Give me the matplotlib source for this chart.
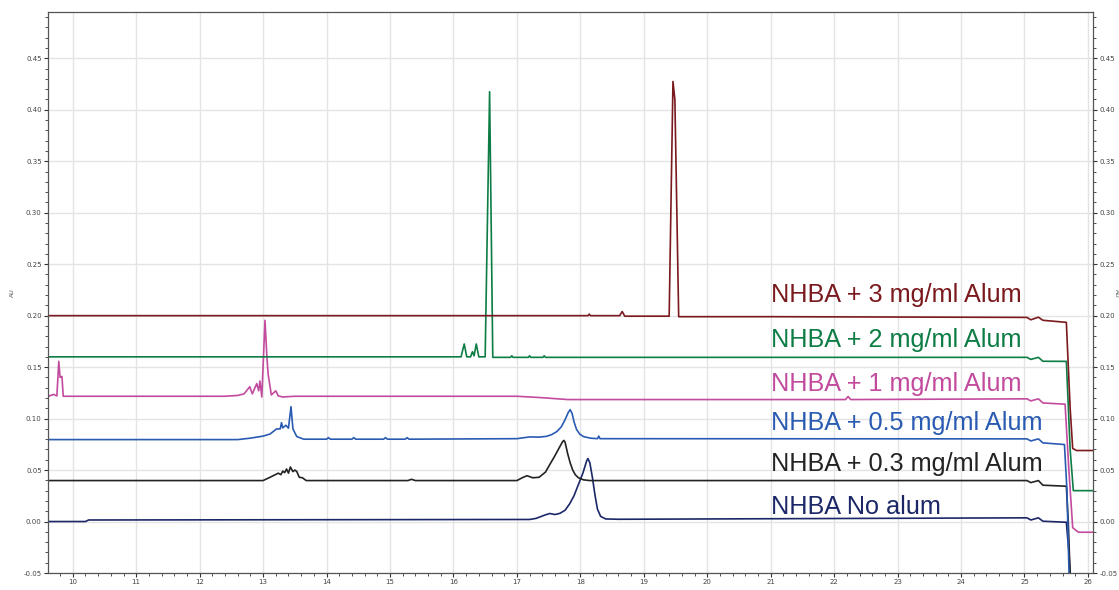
#!/usr/bin/python3
# Overlaid chromatograms: NHBA with increasing alum

import numpy as np
import matplotlib
matplotlib.use("Agg")
import matplotlib.pyplot as plt
from matplotlib.ticker import MultipleLocator

# Retention time (min) / absorbance (AU) knots
no_alum_x = [9.6, 10.2, 10.25, 17.2, 17.3, 17.45, 17.52, 17.6, 17.68, 17.76, 17.83, 17.9, 17.97, 18.04, 18.1,
             18.12, 18.15, 18.19, 18.23, 18.27, 18.32, 18.4, 18.6,
             25.04, 25.1, 25.22, 25.29, 25.66, 25.70, 25.74]
no_alum_y = [0.0, 0.0, 0.0015, 0.002, 0.003, 0.0065, 0.0078, 0.0068, 0.008, 0.011, 0.017, 0.025, 0.036, 0.047, 0.059,
             0.0612, 0.057, 0.043, 0.026, 0.012, 0.005, 0.0025, 0.0022,
             0.0036, 0.0015, 0.0036, 0.0003, -0.0007, -0.03, -0.07]

alum03_x = [9.6, 13.0, 13.11, 13.24, 13.28, 13.31, 13.34, 13.37, 13.40, 13.43, 13.47, 13.50, 13.53, 13.57, 13.62,
            13.68, 15.28, 15.34, 15.4, 17.0, 17.1, 17.16, 17.25, 17.35, 17.45, 17.52, 17.6, 17.67, 17.72, 17.74,
            17.76, 17.80, 17.84, 17.88, 17.92, 17.97, 18.05, 18.15, 25.04, 25.1, 25.22, 25.29, 25.66, 25.69, 25.73]
alum03_y = [0.0398, 0.0398, 0.043, 0.047, 0.0455, 0.049, 0.0475, 0.051, 0.047, 0.053, 0.0485, 0.050, 0.0487, 0.043,
            0.0425, 0.0398, 0.0398, 0.041, 0.0398, 0.0398, 0.043, 0.0445, 0.0425, 0.043, 0.048, 0.0555, 0.064,
            0.072, 0.0775, 0.0788, 0.077, 0.066, 0.057, 0.050, 0.0455, 0.0425, 0.0405, 0.0398,
            0.0398, 0.0378, 0.0398, 0.0353, 0.0343, 0.0, -0.07]

alum05_x = [9.6, 12.6, 12.8, 13.0, 13.11, 13.21, 13.27, 13.29, 13.31, 13.33, 13.36, 13.40, 13.44, 13.47, 13.53,
            13.64, 14.0, 14.03, 14.06, 14.4, 14.43, 14.46, 14.9, 14.93, 14.96, 15.24, 15.27, 15.30, 17.0, 17.2,
            17.35, 17.47, 17.55, 17.63, 17.70, 17.76, 17.81, 17.84, 17.87, 17.90, 17.94, 17.99, 18.05, 18.16,
            18.27, 18.29, 18.31, 25.04, 25.1, 25.22, 25.29, 25.63, 25.67, 25.71]
alum05_y = [0.0796, 0.0796, 0.081, 0.083, 0.085, 0.0899, 0.090, 0.096, 0.091, 0.092, 0.0935, 0.0907, 0.1116, 0.090,
            0.0826, 0.0800, 0.0800, 0.0815, 0.0800, 0.0800, 0.0815, 0.0800, 0.0800, 0.0815, 0.0800, 0.0800, 0.0815,
            0.0800, 0.0805, 0.0822, 0.082, 0.0828, 0.0845, 0.0874, 0.092, 0.099, 0.106, 0.1087, 0.105, 0.097,
            0.0895, 0.085, 0.0825, 0.081, 0.0805, 0.083, 0.0805,
            0.0803, 0.0783, 0.0803, 0.0764, 0.0748, 0.03, -0.07]

alum1_x = [9.6, 9.65, 9.7, 9.75, 9.78, 9.80, 9.83, 9.85, 12.4, 12.6, 12.7, 12.79, 12.83, 12.90, 12.93, 12.95, 12.98,
           13.03, 13.06, 13.08, 13.13, 13.2, 13.24, 13.31, 13.5, 17.0, 17.4, 17.8, 22.18, 22.22, 22.26, 25.04, 25.1,
           25.22, 25.29, 25.64, 25.70, 25.76, 25.85, 26.1]
alum1_y = [0.121, 0.1225, 0.1235, 0.122, 0.1556, 0.14, 0.141, 0.1217, 0.1217, 0.1225, 0.124, 0.131, 0.124, 0.134,
           0.127, 0.1365, 0.121, 0.1955, 0.16, 0.143, 0.123, 0.127, 0.122, 0.121, 0.1217, 0.1217, 0.1203, 0.1185,
           0.1185, 0.1215, 0.1185, 0.1192, 0.1172, 0.1192, 0.1152, 0.114, 0.05, -0.006, -0.0104, -0.0104]

alum2_x = [9.6, 16.12, 16.17, 16.21, 16.27, 16.30, 16.325, 16.36, 16.40, 16.50, 16.57, 16.62, 16.90, 16.92, 16.94,
           17.18, 17.20, 17.22, 17.41, 17.43, 17.45, 25.04, 25.1, 25.22, 25.29, 25.66, 25.72, 25.77, 26.1]
alum2_y = [0.16, 0.16, 0.1725, 0.16, 0.16, 0.165, 0.161, 0.1725, 0.16, 0.16, 0.4175, 0.1595, 0.1595, 0.161, 0.1595,
           0.1595, 0.161, 0.1595, 0.1595, 0.161, 0.1595, 0.1595, 0.1575, 0.1595, 0.1557, 0.1556, 0.07, 0.030, 0.030]

alum3_x = [9.6, 18.12, 18.14, 18.16, 18.62, 18.66, 18.70, 19.40, 19.46, 19.49, 19.55, 21.0, 25.04, 25.1, 25.22,
           25.29, 25.66, 25.72, 25.76, 25.82, 26.1]
alum3_y = [0.2, 0.2, 0.2015, 0.2, 0.2, 0.204, 0.1995, 0.1995, 0.4275, 0.41, 0.199, 0.199, 0.1983, 0.196, 0.1985,
           0.1955, 0.1935, 0.11, 0.071, 0.069, 0.069]

labels = ["NHBA No alum", "NHBA + 0.3 mg/ml Alum", "NHBA + 0.5 mg/ml Alum",
          "NHBA + 1 mg/ml Alum", "NHBA + 2 mg/ml Alum", "NHBA + 3 mg/ml Alum"]
colors = ["#1c2768", "#232323", "#2a5bb2", "#c24b9e", "#0d7d45", "#7a1a1e"]
label_y = [0.0146, 0.0563, 0.0961, 0.134, 0.1767, 0.2204]

traces = [(no_alum_x, no_alum_y), (alum03_x, alum03_y), (alum05_x, alum05_y),
          (alum1_x, alum1_y), (alum2_x, alum2_y), (alum3_x, alum3_y)]

fig = plt.figure(figsize=(11.19, 5.90), dpi=100)
ax = fig.add_axes([48 / 1119, 1 - 573 / 590, (1093 - 48) / 1119, (573 - 12) / 590])

for (x, y), c in zip(traces, colors):
    ax.plot(x, y, color=c, lw=1.2, solid_joinstyle="round")

for lab, c, yy in zip(labels, colors, label_y):
    ax.text(21.01, yy, lab, color=c, fontsize=18.2, family="Liberation Sans", va="center", ha="left")

ax.set_xlim(9.61, 26.08)
ax.set_ylim(-0.05, 0.495)
ax.xaxis.set_major_locator(MultipleLocator(1))
ax.xaxis.set_minor_locator(MultipleLocator(0.2))
ax.yaxis.set_major_locator(MultipleLocator(0.05))
ax.yaxis.set_minor_locator(MultipleLocator(0.01))
ax.yaxis.set_major_formatter(plt.FormatStrFormatter("%.2f"))

ax.grid(True, which="major", color="#e4e4e4", lw=1.0)
ax.set_axisbelow(True)
ax.tick_params(which="both", direction="out", labelsize=5, labelcolor="#444444", color="#333333",
               right=True, labelright=True, top=False, pad=1.5)
ax.tick_params(which="major", length=3, width=0.8)
ax.tick_params(which="minor", length=2, width=0.6)
for s in ax.spines.values():
    s.set_color("#555555")
    s.set_linewidth(0.9)

fig.text(12 / 1119, 1 - 293 / 590, "AU", rotation=90, fontsize=4.5, color="#555555", va="center", ha="center")
fig.text(1116 / 1119, 1 - 293 / 590, "AU", rotation=270, fontsize=4.5, color="#555555", va="center", ha="center")

fig.savefig("out.png", dpi=100)
